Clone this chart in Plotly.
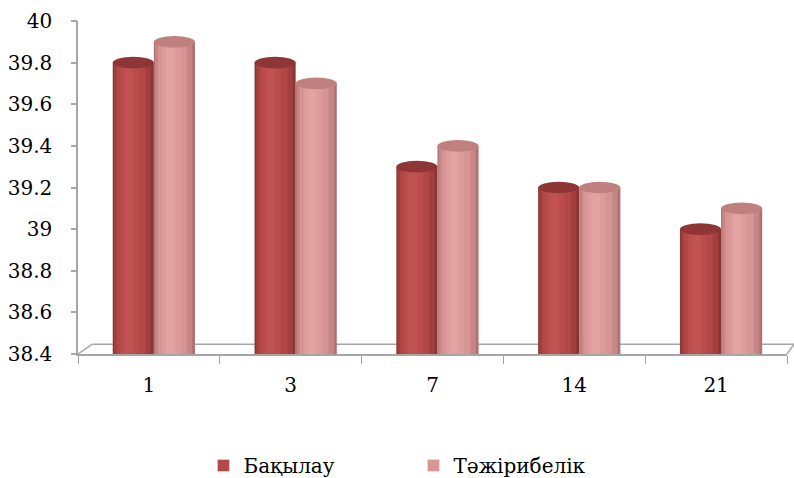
import plotly.graph_objects as go

categories = ["1", "3", "7", "14", "21"]
control = [39.8, 39.8, 39.3, 39.2, 39.0]
experiment = [39.9, 39.7, 39.4, 39.2, 39.1]
series_names = ["Бақылау", "Тәжірибелік"]

y_min, y_max = 38.4, 40.0
bar_w = 0.29      # width of one cylinder in category units
shift = 0.035     # 3D depth shift

# shading layers: (width fraction, center offset fraction, color)
dark_layers = [(1.00, 0.00, "#8A3433"), (0.90, -0.02, "#A03F3E"), (0.70, -0.05, "#B14746"),
               (0.45, -0.08, "#BA4D4B"), (0.22, -0.10, "#C05351")]
light_layers = [(1.00, 0.00, "#AE7474"), (0.90, -0.02, "#C78685"), (0.70, -0.05, "#D69494"),
                (0.45, -0.08, "#DD9B9B"), (0.22, -0.10, "#E2A3A3")]
top_colors = ["#8E3635", "#C08080"]
legend_colors = ["#B34A48", "#D99594"]

fig = go.Figure()
shapes = []
for s, (vals, layers) in enumerate([(control, dark_layers), (experiment, light_layers)]):
    left = -bar_w + shift if s == 0 else shift
    for k, (wf, co, col) in enumerate(layers):
        w = bar_w * wf
        off = left + (bar_w - w) / 2 + co * bar_w
        fig.add_trace(go.Bar(
            x=categories, y=vals, width=w, offset=off,
            marker=dict(color=col, line=dict(width=0)),
            name=series_names[s], showlegend=False, hoverinfo="skip"))
    fig.add_trace(go.Bar(x=[None], y=[None], name=series_names[s],
                         marker=dict(color=legend_colors[s]), showlegend=True))
    eh = 0.028
    for i, v in enumerate(vals):
        x0 = i + left
        shapes.append(dict(type="circle", xref="x", yref="y",
                           x0=x0, x1=x0 + bar_w, y0=v - eh, y1=v + eh,
                           fillcolor=top_colors[s], line=dict(width=0), layer="above"))

# invisible trace to keep the tick-mark axis alive
fig.add_trace(go.Scatter(x=[None], y=[None], yaxis="y2", showlegend=False, hoverinfo="skip"))

# 3D floor
depth = 0.047
shapes += [
    dict(type="line", xref="paper", yref="y", x0=0, x1=0.02, y0=y_min, y1=y_min + depth,
         line=dict(color="#A6A6A6", width=1.5), layer="below"),
    dict(type="line", xref="paper", yref="y", x0=0.02, x1=1.01, y0=y_min + depth, y1=y_min + depth,
         line=dict(color="#A6A6A6", width=1.5), layer="below"),
    dict(type="line", xref="paper", yref="y", x0=1.0, x1=1.01, y0=y_min, y1=y_min + depth,
         line=dict(color="#A6A6A6", width=1.5), layer="below"),
]

font = "DejaVu Serif"
fs = 20
fig.update_layout(
    width=794, height=478,
    margin=dict(l=78, r=7, t=21, b=124, autoexpand=False),
    paper_bgcolor="white", plot_bgcolor="white",
    barmode="overlay",
    font=dict(family=font, size=fs, color="black"),
    shapes=shapes,
    xaxis=dict(type="category", categoryorder="array", categoryarray=categories,
               range=[-0.5, 4.5], tickson="boundaries", ticks="outside", ticklen=8,
               tickcolor="#A6A6A6", showline=True, linecolor="#A6A6A6", linewidth=1.5,
               showgrid=False, ticklabelstandoff=12, tickfont=dict(family=font, size=fs)),
    yaxis=dict(range=[y_min, y_max], dtick=0.2, tick0=38.4, ticks="outside", ticklen=16,
               tickcolor="rgba(0,0,0,0)", showline=True, linecolor="#A6A6A6", linewidth=1.5,
               showgrid=False, zeroline=False, tickformat="~r", ticklabelposition="outside",
               ticklabelstandoff=4, tickfont=dict(family=font, size=fs)),
    yaxis2=dict(range=[y_min, y_max], dtick=0.2, tick0=38.4, overlaying="y", side="left",
                ticks="outside", ticklen=6, tickcolor="#A6A6A6", tickwidth=1.5,
                showticklabels=False, showline=False, showgrid=False, zeroline=False),
    legend=dict(orientation="h", x=0.177, xanchor="left", y=-0.335, yanchor="middle",
                font=dict(family=font, size=fs), entrywidth=165, itemwidth=30, tracegroupgap=0),
)

fig.write_html("out.html")
